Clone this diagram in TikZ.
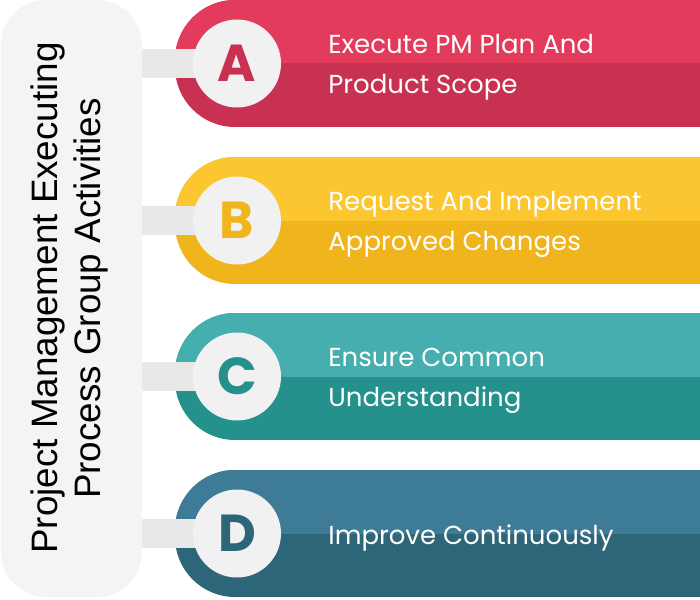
\documentclass[tikz,border=0pt]{standalone}
\usepackage{fontspec}
\setmainfont{Poppins}
\newfontfamily\titlefont{Liberation Sans}
\usetikzlibrary{positioning,calc}
\definecolor{pillbg}{HTML}{F4F4F4}
\definecolor{barbg}{HTML}{E8E8E8}
\definecolor{badgebg}{HTML}{F1F1F1}
\definecolor{redlt}{HTML}{E23B5B}
\definecolor{reddk}{HTML}{C93152}
\definecolor{yellt}{HTML}{FBC62F}
\definecolor{yeldk}{HTML}{F0B41D}
\definecolor{teallt}{HTML}{46AEAE}
\definecolor{tealdk}{HTML}{24918D}
\definecolor{bluelt}{HTML}{3E7B96}
\definecolor{bluedk}{HTML}{2E6679}

\tikzset{
  pill/.style={rectangle, fill=pillbg, rounded corners=22.5pt,
    minimum width=70.5pt, minimum height=298.5pt, inner sep=0pt},
  titletext/.style={rotate=90, anchor=base, text=black,
    font=\titlefont\fontsize{18.4}{18}\selectfont},
  bar/.style={draw=barbg, line width=14.5pt},
  badge/.style={circle, fill=badgebg, minimum size=44pt, inner sep=0pt,
    font=\fontsize{26}{30}\selectfont\bfseries},
  steptext/.style={anchor=west, align=left, text=white, inner sep=0pt,
    font=\fontsize{13}{20}\selectfont}
}

\begin{document}
\begin{tikzpicture}[x=0.5pt, y=-0.5pt]
  \useasboundingbox (0,0) rectangle (700,599);

  % Left title pill (text runs bottom to top)
  \node[pill] (title) at (71.5,298.5) {};
  \node[titletext] (titleA) at (57,298) {Project Management Executing};
  \node[titletext] (titleB) at (100,298.5) {Process Group Activities};

  % 4 bands: rounded left end, light top half, dark bottom half
  \foreach \ltr/\top/\light/\dark/\txt in {
      A/0/redlt/reddk/{Execute PM Plan And\\Product Scope},
      B/157/yellt/yeldk/{Request And Implement\\Approved Changes},
      C/313/teallt/tealdk/{Ensure Common\\Understanding},
      D/470/bluelt/bluedk/{Improve Continuously}} {
    \pgfmathsetmacro\mid{\top+63.5}
    \pgfmathsetmacro\bot{\top+127}
    \begin{scope}
      \clip (700,\top) [rounded corners=30pt] -- (175,\top) -- (175,\bot)
        [sharp corners] -- (700,\bot) -- cycle;
      \fill[\dark] (175,\top) rectangle (700,\bot);
      \fill[\light] (175,\top) rectangle (700,\mid);
    \end{scope}

    % link from the pill to the letter badge
    \coordinate (c\ltr) at (237,\mid);
    \draw[bar] (title.east |- c\ltr) -- (c\ltr);
    \node[badge, text=\dark] (badge\ltr) at (c\ltr) {\ltr};
    \node[steptext] (step\ltr) at (328,\mid+4) {\txt};
  }
\end{tikzpicture}
\end{document}
